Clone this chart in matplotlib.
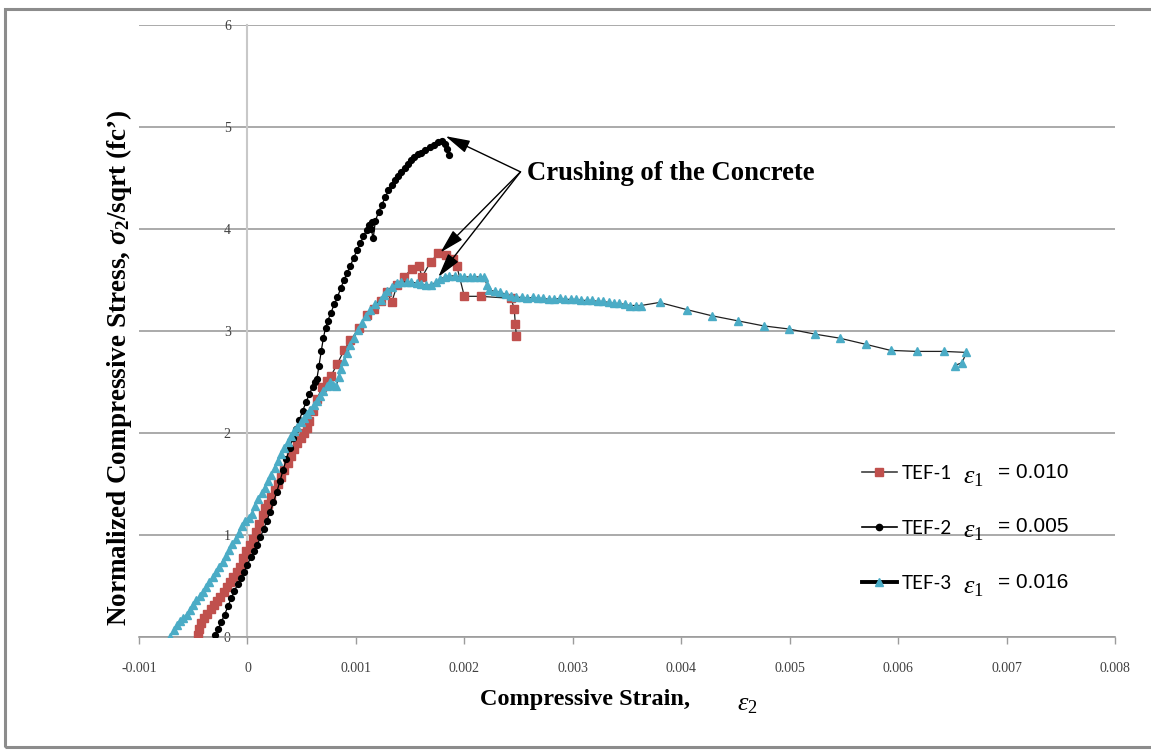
import matplotlib
matplotlib.use("Agg")
import matplotlib.pyplot as plt
from matplotlib.lines import Line2D
from matplotlib.patches import Rectangle

plt.rcParams["mathtext.fontset"] = "custom"
plt.rcParams["mathtext.rm"] = "Liberation Serif"
plt.rcParams["mathtext.it"] = "Liberation Serif:italic"
plt.rcParams["mathtext.bf"] = "Liberation Serif:bold"
plt.rcParams["mathtext.bfit"] = "Liberation Serif:italic:bold"

# ---------------- data ----------------
series_names = ["TEF-1", "TEF-2", "TEF-3"]
eps1_labels = ["= 0.010", "= 0.005", "= 0.016"]

tef1_strain = [-0.00046, -0.00045, -0.00043, -0.00040, -0.00037, -0.00034, -0.00031, -0.00028,
               -0.00025, -0.00022, -0.00019, -0.00016, -0.00013, -0.00010, -0.00007, -0.00004,
               -0.00001, 0.00002, 0.00005, 0.00008, 0.00011, 0.00014, 0.00016, 0.00019,
               0.00022, 0.00025, 0.00028, 0.00031, 0.00034, 0.00037, 0.00040, 0.00043,
               0.00046, 0.00049, 0.00052, 0.00055, 0.00057, 0.00060, 0.00064, 0.00069,
               0.00073, 0.00077, 0.00083, 0.00089, 0.00095, 0.00103, 0.00110, 0.00117,
               0.00123, 0.00129, 0.00133, 0.00138, 0.00144, 0.00152, 0.00158, 0.00161,
               0.00169, 0.00176, 0.00183, 0.00190, 0.00193, 0.00200, 0.00215, 0.00243,
               0.00246, 0.00247, 0.00248]
tef1_stress = [0.02, 0.08, 0.14, 0.19, 0.23, 0.27, 0.31, 0.35,
               0.39, 0.44, 0.49, 0.54, 0.59, 0.64, 0.69, 0.77,
               0.84, 0.90, 0.96, 1.03, 1.11, 1.20, 1.26, 1.30,
               1.37, 1.44, 1.50, 1.57, 1.64, 1.71, 1.77, 1.84,
               1.90, 1.95, 2.00, 2.05, 2.12, 2.22, 2.33, 2.45,
               2.51, 2.56, 2.68, 2.81, 2.91, 3.03, 3.16, 3.22,
               3.29, 3.38, 3.28, 3.45, 3.53, 3.61, 3.64, 3.53,
               3.68, 3.76, 3.75, 3.71, 3.64, 3.34, 3.34, 3.32,
               3.22, 3.07, 2.95]

tef2_strain = [-0.00030, -0.00027, -0.00024, -0.00021, -0.00018, -0.00015, -0.00012, -0.00009,
               -0.00006, -0.00003, 0.00000, 0.00003, 0.00006, 0.00009, 0.00012, 0.00015,
               0.00018, 0.00021, 0.00024, 0.00027, 0.00030, 0.00033, 0.00036, 0.00039,
               0.00042, 0.00045, 0.00048, 0.00051, 0.00054, 0.00057, 0.00060, 0.00062,
               0.00064, 0.00066, 0.00068, 0.00070, 0.00072, 0.00074, 0.00077, 0.00080,
               0.00083, 0.00086, 0.00089, 0.00092, 0.00095, 0.00098, 0.00101, 0.00104,
               0.00107, 0.00110, 0.00112, 0.00115, 0.00114, 0.00116, 0.00118, 0.00121,
               0.00124, 0.00127, 0.00130, 0.00133, 0.00136, 0.00139, 0.00142, 0.00145,
               0.00148, 0.00151, 0.00154, 0.00157, 0.00160, 0.00164, 0.00168, 0.00172,
               0.00176, 0.00179, 0.00182, 0.00184, 0.00186]
tef2_stress = [0.02, 0.08, 0.15, 0.22, 0.30, 0.38, 0.45, 0.52,
               0.58, 0.64, 0.71, 0.78, 0.84, 0.90, 0.98, 1.06,
               1.14, 1.23, 1.32, 1.42, 1.53, 1.64, 1.75, 1.85,
               1.95, 2.04, 2.13, 2.22, 2.30, 2.38, 2.45, 2.50,
               2.53, 2.66, 2.80, 2.93, 3.03, 3.10, 3.18, 3.26,
               3.33, 3.42, 3.50, 3.57, 3.64, 3.72, 3.79, 3.86,
               3.93, 3.99, 4.04, 4.07, 4.00, 3.91, 4.08, 4.17,
               4.24, 4.31, 4.38, 4.43, 4.48, 4.52, 4.56, 4.60,
               4.64, 4.68, 4.71, 4.74, 4.75, 4.77, 4.80, 4.82,
               4.85, 4.86, 4.83, 4.78, 4.73]

tef3_strain = [-0.00071, -0.00068, -0.00065, -0.00062, -0.00059, -0.00056, -0.00053, -0.00050,
               -0.00047, -0.00044, -0.00041, -0.00038, -0.00035, -0.00032, -0.00029, -0.00026,
               -0.00023, -0.00020, -0.00017, -0.00014, -0.00011, -0.00008, -0.00005, -0.00002,
               0.00001, 0.00004, 0.00007, 0.00010, 0.00013, 0.00016, 0.00019, 0.00022,
               0.00025, 0.00028, 0.00031, 0.00034, 0.00037, 0.00040, 0.00043, 0.00046,
               0.00049, 0.00052, 0.00055, 0.00058, 0.00061, 0.00064, 0.00067, 0.00070,
               0.00073, 0.00076, 0.00079, 0.00082, 0.00084, 0.00086, 0.00089, 0.00092,
               0.00095, 0.00098, 0.00102, 0.00106, 0.00109, 0.00113, 0.00118, 0.00123,
               0.00126, 0.00129, 0.00133, 0.00138, 0.00142, 0.00147, 0.00151, 0.00156,
               0.00160, 0.00165, 0.00169, 0.00174, 0.00178, 0.00182, 0.00186, 0.00191,
               0.00196, 0.00200, 0.00205, 0.00209, 0.00214, 0.00218, 0.00221, 0.00223,
               0.00228, 0.00233, 0.00238, 0.00243, 0.00248, 0.00253, 0.00258, 0.00263,
               0.00268, 0.00273, 0.00278, 0.00283, 0.00288, 0.00293, 0.00298, 0.00303,
               0.00308, 0.00313, 0.00318, 0.00323, 0.00328, 0.00333, 0.00338, 0.00343,
               0.00348, 0.00353, 0.00358, 0.00363, 0.00380, 0.00405, 0.00428, 0.00452,
               0.00476, 0.00499, 0.00523, 0.00546, 0.00570, 0.00593, 0.00617, 0.00642,
               0.00663, 0.00659, 0.00652]
tef3_stress = [0.00, 0.07, 0.12, 0.16, 0.19, 0.22, 0.26, 0.31,
               0.36, 0.40, 0.44, 0.49, 0.54, 0.59, 0.64, 0.69,
               0.74, 0.79, 0.85, 0.91, 0.96, 1.02, 1.09, 1.14,
               1.17, 1.21, 1.28, 1.35, 1.41, 1.46, 1.53, 1.59,
               1.66, 1.73, 1.79, 1.85, 1.91, 1.97, 2.02, 2.06,
               2.11, 2.15, 2.19, 2.23, 2.27, 2.31, 2.36, 2.41,
               2.46, 2.50, 2.47, 2.46, 2.55, 2.63, 2.71, 2.78,
               2.86, 2.93, 3.01, 3.08, 3.15, 3.21, 3.26, 3.30,
               3.35, 3.39, 3.43, 3.47, 3.48, 3.48, 3.48, 3.47,
               3.46, 3.45, 3.45, 3.48, 3.51, 3.53, 3.54, 3.54,
               3.53, 3.53, 3.53, 3.53, 3.53, 3.53, 3.45, 3.40,
               3.39, 3.38, 3.36, 3.34, 3.33, 3.33, 3.32, 3.33,
               3.32, 3.32, 3.31, 3.31, 3.32, 3.31, 3.31, 3.31,
               3.30, 3.30, 3.30, 3.29, 3.29, 3.28, 3.27, 3.27,
               3.26, 3.25, 3.25, 3.25, 3.28, 3.21, 3.15, 3.10,
               3.05, 3.02, 2.97, 2.93, 2.87, 2.81, 2.80, 2.80,
               2.79, 2.69, 2.66]

x_ticks = [-0.001, 0.0, 0.001, 0.002, 0.003, 0.004, 0.005, 0.006, 0.007, 0.008]
x_tick_labels = ["-0.001", "0", "0.001", "0.002", "0.003", "0.004", "0.005", "0.006", "0.007", "0.008"]
y_ticks = [0, 1, 2, 3, 4, 5, 6]
y_tick_labels = ["0", "1", "2", "3", "4", "5", "6"]

# crushing points marked by arrows (strain, stress)
crush_tail = (0.002518, 4.56)
crush_heads = [(0.001827, 4.91), (0.00178, 3.77), (0.00176, 3.53)]

RED = "#C0504D"
CYAN = "#4BACC6"
GRID = "#9C9C9C"

W, H = 1151, 751
fig = plt.figure(figsize=(W / 100, H / 100), dpi=100)
fig.patch.set_facecolor("white")
ax = fig.add_axes([139 / W, (H - 637) / H, 976 / W, 612 / H])

# series
ax.plot(tef1_strain, tef1_stress, color="#202020", lw=0.9, marker="s", ms=5.2,
        mfc=RED, mec=RED, zorder=3)
ax.plot(tef2_strain, tef2_stress, color="black", lw=0.9, marker="o", ms=4.2,
        mfc="black", mec="black", zorder=4)
ax.plot(tef3_strain, tef3_stress, color="#202020", lw=0.9, marker="^", ms=5.5,
        mfc=CYAN, mec=CYAN, zorder=5)

ax.set_xlim(-0.001, 0.008)
ax.set_ylim(0, 6)
ax.set_xticks(x_ticks)
ax.set_xticklabels(x_tick_labels)
ax.set_yticks(y_ticks)
ax.set_yticklabels(y_tick_labels)

for side in ("top", "right"):
    ax.spines[side].set_visible(False)
ax.spines["left"].set_position(("data", 0))
ax.spines["left"].set_color("#C8C8C8")
ax.spines["left"].set_linewidth(1.5)
ax.spines["bottom"].set_color(GRID)
ax.spines["bottom"].set_linewidth(1.2)

ax.yaxis.grid(True, color=GRID, lw=1.2)
ax.set_axisbelow(True)
ax.tick_params(axis="y", length=0, pad=12, labelsize=10, labelcolor="#404040")
ax.tick_params(axis="x", length=5, width=1.0, color=GRID, pad=13, labelsize=10,
               labelcolor="#404040")
for lbl in ax.get_xticklabels() + ax.get_yticklabels():
    lbl.set_fontfamily("Liberation Serif")

# annotation arrows
for head in crush_heads:
    ax.annotate("", xy=head, xytext=crush_tail,
                arrowprops=dict(arrowstyle="-|>,head_length=1.5,head_width=0.4",
                                mutation_scale=10, color="black", lw=1.0,
                                shrinkA=0, shrinkB=0))
ax.text(0.00258, 4.54, "Crushing of the Concrete", fontfamily="Liberation Serif",
        fontweight="bold", fontsize=19.2, ha="left", va="center")

# axis titles
fig.text(480 / W, 1 - 700 / H, "Compressive Strain,", fontfamily="Liberation Serif",
         fontweight="bold", fontsize=17.5, ha="left", va="center")
fig.text(737 / W, 1 - 703 / H, r"$\varepsilon_{2}$", fontsize=19, ha="left", va="center")
fig.text(119 / W, 1 - 368 / H,
         r"Normalized Compressive Stress, $\mathbfit{\sigma}_{\mathbf{2}}$/sqrt (fc’)",
         fontfamily="Liberation Serif", fontweight="bold", fontsize=19.5,
         rotation=90, ha="center", va="center")

# legend
handles = [
    Line2D([], [], color="#404040", lw=1.2, marker="s", ms=6, mfc=RED, mec=RED),
    Line2D([], [], color="black", lw=1.2, marker="o", ms=4.5, mfc="black", mec="black"),
    Line2D([], [], color="black", lw=2.8, marker="^", ms=6, mfc=CYAN, mec=CYAN),
]
ax.legend(handles, series_names, loc="upper left", bbox_to_anchor=(862 / W, 1 - 465 / H),
          bbox_transform=fig.transFigure, frameon=False,
          prop={"family": "Lato", "size": 13.5}, handlelength=1.85, handletextpad=0.25,
          labelspacing=2.02, borderpad=0, borderaxespad=0)
row_y = [473, 527, 583]
for yy, val in zip(row_y, eps1_labels):
    fig.text(963 / W, 1 - (yy + 3) / H, r"$\varepsilon_{1}$", fontsize=19,
             ha="left", va="center")
    fig.text(998 / W, 1 - yy / H, val, fontfamily="Liberation Sans", fontsize=15,
             ha="left", va="center")

# outer frame
fig.add_artist(Rectangle((5 / W, 4 / H), (W + 20) / W, (747 - 9) / H,
                         transform=fig.transFigure, fill=False, ec="#8C8C8C", lw=2.2,
                         clip_on=False))

fig.savefig("out.png", dpi=100)
